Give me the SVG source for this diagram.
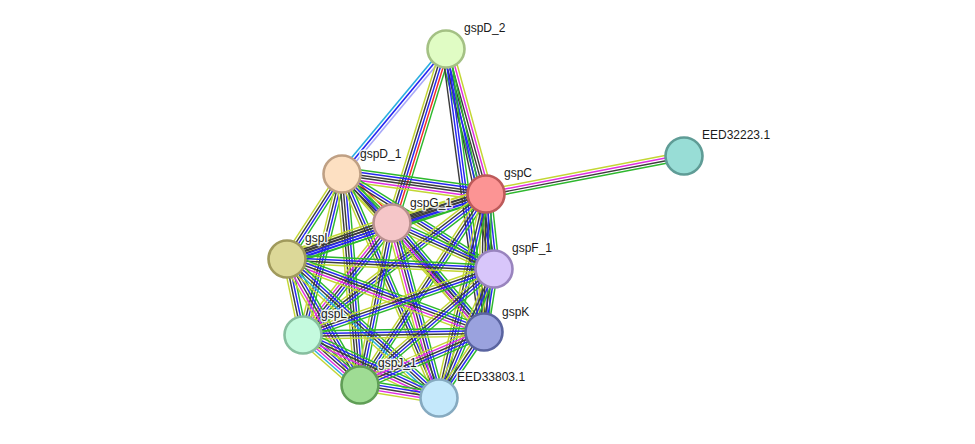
<svg xmlns="http://www.w3.org/2000/svg" width="975" height="444" viewBox="0 0 975 444">
<style>
.e path{fill:none;stroke-width:1.25}
.g{stroke:#2db82d}.b{stroke:#2626f2}.k{stroke:#3c3c3c}.y{stroke:#c3d633}.m{stroke:#e02ee0}.c{stroke:#2aaee0}.r{stroke:#f52a2a}.l{stroke:#a8a8f8}
.n circle{stroke-width:2.6}
.n text{font-family:"Liberation Sans",Arial,sans-serif;font-size:12px;fill:#1a1a1a;stroke:#fff;stroke-width:3px;stroke-opacity:0.85;paint-order:stroke;stroke-linejoin:round}
</style>
<rect width="975" height="444" fill="#fff"/>
<g id="edges" class="e">
<g transform="translate(446 49) rotate(129.8) scale(1 1.3)"><path class="l" d="M0-2.3H162.6"/><path class="b" d="M0 0H162.6"/><path class="c" d="M0 2.3H162.6"/></g>
<g transform="translate(446 49) rotate(107.2) scale(1 1.15)"><path class="g" d="M0-4.6H182.2"/><path class="r" d="M0-2.3H182.2"/><path class="b" d="M0 0H182.2"/><path class="k" d="M0 2.3H182.2"/><path class="y" d="M0 4.6H182.2"/></g>
<g transform="translate(446 49) rotate(74.6) scale(1 1.15)"><path class="y" d="M0-5.75H150.4"/><path class="m" d="M0-3.45H150.4"/><path class="k" d="M0-1.15H150.4"/><path class="k" d="M0 1.15H150.4"/><path class="b" d="M0 3.45H150.4"/><path class="g" d="M0 5.75H150.4"/></g>
<g transform="translate(446 49) rotate(77.7) scale(1 1.15)"><path class="g" d="M0-2.3H225.2"/><path class="b" d="M0 0H225.2"/><path class="k" d="M0 2.3H225.2"/></g>
<g transform="translate(446 49) rotate(82.4) scale(1 1.15)"><path class="g" d="M0-3.45H285.5"/><path class="b" d="M0-1.15H285.5"/><path class="b" d="M0 1.15H285.5"/><path class="k" d="M0 3.45H285.5"/></g>
<g transform="translate(486 194) rotate(-10.9) scale(1 1.15)"><path class="y" d="M0-3.45H201.6"/><path class="m" d="M0-1.15H201.6"/><path class="k" d="M0 1.15H201.6"/><path class="g" d="M0 3.45H201.6"/></g>
<g transform="translate(342 174) rotate(7.9) scale(1 1.15)"><path class="g" d="M0-5.75H145.4"/><path class="b" d="M0-3.45H145.4"/><path class="k" d="M0-1.15H145.4"/><path class="k" d="M0 1.15H145.4"/><path class="m" d="M0 3.45H145.4"/><path class="y" d="M0 5.75H145.4"/></g>
<g transform="translate(342 174) rotate(44.4) scale(1 1.15)"><path class="r" d="M0-4.6H70"/><path class="g" d="M0-2.3H70"/><path class="b" d="M0 0H70"/><path class="k" d="M0 2.3H70"/><path class="y" d="M0 4.6H70"/></g>
<g transform="translate(342 174) rotate(122.9) scale(1 1.15)"><path class="g" d="M0-3.45H101.2"/><path class="b" d="M0-1.15H101.2"/><path class="k" d="M0 1.15H101.2"/><path class="y" d="M0 3.45H101.2"/></g>
<g transform="translate(342 174) rotate(32) scale(1 1.15)"><path class="g" d="M0-3.45H179.2"/><path class="b" d="M0-1.15H179.2"/><path class="k" d="M0 1.15H179.2"/><path class="y" d="M0 3.45H179.2"/></g>
<g transform="translate(342 174) rotate(103.6) scale(1 1.15)"><path class="g" d="M0-3.45H165.7"/><path class="b" d="M0-1.15H165.7"/><path class="k" d="M0 1.15H165.7"/><path class="y" d="M0 3.45H165.7"/></g>
<g transform="translate(342 174) rotate(48.1) scale(1 1.15)"><path class="g" d="M0-3.45H212.4"/><path class="b" d="M0-1.15H212.4"/><path class="k" d="M0 1.15H212.4"/><path class="y" d="M0 3.45H212.4"/></g>
<g transform="translate(342 174) rotate(85.1) scale(1 1.15)"><path class="g" d="M0-4.6H211.8"/><path class="b" d="M0-2.3H211.8"/><path class="k" d="M0 0H211.8"/><path class="k" d="M0 2.3H211.8"/><path class="y" d="M0 4.6H211.8"/></g>
<g transform="translate(342 174) rotate(66.6) scale(1 1.15)"><path class="g" d="M0-3.45H244.1"/><path class="b" d="M0-1.15H244.1"/><path class="k" d="M0 1.15H244.1"/><path class="y" d="M0 3.45H244.1"/></g>
<g transform="translate(486 194) rotate(162.9) scale(1 1.15)"><path class="g" d="M0-4.6H98.4"/><path class="b" d="M0-2.3H98.4"/><path class="k" d="M0 0H98.4"/><path class="k" d="M0 2.3H98.4"/><path class="y" d="M0 4.6H98.4"/></g>
<g transform="translate(486 194) rotate(161.9) scale(1 1.15)"><path class="g" d="M0-4.6H209.3"/><path class="b" d="M0-2.3H209.3"/><path class="k" d="M0 0H209.3"/><path class="k" d="M0 2.3H209.3"/><path class="y" d="M0 4.6H209.3"/></g>
<g transform="translate(486 194) rotate(83.9) scale(1 1.15)"><path class="g" d="M0-4.6H75.4"/><path class="b" d="M0-2.3H75.4"/><path class="k" d="M0 0H75.4"/><path class="k" d="M0 2.3H75.4"/><path class="y" d="M0 4.6H75.4"/></g>
<g transform="translate(486 194) rotate(142.4) scale(1 1.15)"><path class="g" d="M0-3.45H231"/><path class="b" d="M0-1.15H231"/><path class="k" d="M0 1.15H231"/><path class="y" d="M0 3.45H231"/></g>
<g transform="translate(486 194) rotate(90.8) scale(1 1.15)"><path class="g" d="M0-4.6H138"/><path class="b" d="M0-2.3H138"/><path class="k" d="M0 0H138"/><path class="k" d="M0 2.3H138"/><path class="y" d="M0 4.6H138"/></g>
<g transform="translate(486 194) rotate(123.4) scale(1 1.15)"><path class="g" d="M0-3.45H228.8"/><path class="b" d="M0-1.15H228.8"/><path class="k" d="M0 1.15H228.8"/><path class="y" d="M0 3.45H228.8"/></g>
<g transform="translate(486 194) rotate(103) scale(1 1.15)"><path class="g" d="M0-3.45H209.3"/><path class="b" d="M0-1.15H209.3"/><path class="k" d="M0 1.15H209.3"/><path class="y" d="M0 3.45H209.3"/></g>
<g transform="translate(392 223) rotate(161.1) scale(1 1.15)"><path class="g" d="M0-5.75H111"/><path class="b" d="M0-3.45H111"/><path class="b" d="M0-1.15H111"/><path class="k" d="M0 1.15H111"/><path class="k" d="M0 3.45H111"/><path class="y" d="M0 5.75H111"/></g>
<g transform="translate(392 223) rotate(24.3) scale(1 1.15)"><path class="g" d="M0-3.45H111.9"/><path class="b" d="M0-1.15H111.9"/><path class="k" d="M0 1.15H111.9"/><path class="y" d="M0 3.45H111.9"/></g>
<g transform="translate(392 223) rotate(128.5) scale(1 1.15)"><path class="g" d="M0-4.6H143.1"/><path class="b" d="M0-2.3H143.1"/><path class="k" d="M0 0H143.1"/><path class="m" d="M0 2.3H143.1"/><path class="y" d="M0 4.6H143.1"/></g>
<g transform="translate(392 223) rotate(49.8) scale(1 1.15)"><path class="g" d="M0-4.6H142.6"/><path class="b" d="M0-2.3H142.6"/><path class="k" d="M0 0H142.6"/><path class="m" d="M0 2.3H142.6"/><path class="y" d="M0 4.6H142.6"/></g>
<g transform="translate(392 223) rotate(101.2) scale(1 1.15)"><path class="g" d="M0-3.45H165.1"/><path class="b" d="M0-1.15H165.1"/><path class="k" d="M0 1.15H165.1"/><path class="y" d="M0 3.45H165.1"/></g>
<g transform="translate(392 223) rotate(75) scale(1 1.15)"><path class="g" d="M0-4.6H181.2"/><path class="b" d="M0-2.3H181.2"/><path class="k" d="M0 0H181.2"/><path class="m" d="M0 2.3H181.2"/><path class="y" d="M0 4.6H181.2"/></g>
<g transform="translate(287 259) rotate(2.8) scale(1 1.15)"><path class="g" d="M0-3.45H207.2"/><path class="b" d="M0-1.15H207.2"/><path class="k" d="M0 1.15H207.2"/><path class="y" d="M0 3.45H207.2"/></g>
<g transform="translate(287 259) rotate(78.1) scale(1 1.15)"><path class="g" d="M0-3.45H77.7"/><path class="b" d="M0-1.15H77.7"/><path class="k" d="M0 1.15H77.7"/><path class="y" d="M0 3.45H77.7"/></g>
<g transform="translate(287 259) rotate(20.3) scale(1 1.15)"><path class="g" d="M0-4.6H210.1"/><path class="b" d="M0-2.3H210.1"/><path class="k" d="M0 0H210.1"/><path class="m" d="M0 2.3H210.1"/><path class="y" d="M0 4.6H210.1"/></g>
<g transform="translate(287 259) rotate(59.9) scale(1 1.15)"><path class="g" d="M0-4.6H145.6"/><path class="b" d="M0-2.3H145.6"/><path class="k" d="M0 0H145.6"/><path class="m" d="M0 2.3H145.6"/><path class="y" d="M0 4.6H145.6"/></g>
<g transform="translate(287 259) rotate(42.4) scale(1 1.15)"><path class="g" d="M0-4.6H206"/><path class="b" d="M0-2.3H206"/><path class="k" d="M0 0H206"/><path class="c" d="M0 2.3H206"/><path class="y" d="M0 4.6H206"/></g>
<g transform="translate(494 269) rotate(160.9) scale(1 1.15)"><path class="g" d="M0-3.45H202.1"/><path class="b" d="M0-1.15H202.1"/><path class="k" d="M0 1.15H202.1"/><path class="y" d="M0 3.45H202.1"/></g>
<g transform="translate(494 269) rotate(99) scale(1 1.15)"><path class="g" d="M0-3.45H63.8"/><path class="b" d="M0-1.15H63.8"/><path class="k" d="M0 1.15H63.8"/><path class="y" d="M0 3.45H63.8"/></g>
<g transform="translate(494 269) rotate(139.1) scale(1 1.15)"><path class="g" d="M0-3.45H177.2"/><path class="b" d="M0-1.15H177.2"/><path class="k" d="M0 1.15H177.2"/><path class="y" d="M0 3.45H177.2"/></g>
<g transform="translate(494 269) rotate(113.1) scale(1 1.15)"><path class="g" d="M0-3.45H140.2"/><path class="b" d="M0-1.15H140.2"/><path class="k" d="M0 1.15H140.2"/><path class="y" d="M0 3.45H140.2"/></g>
<g transform="translate(303 335) rotate(-0.9) scale(1 1.15)"><path class="g" d="M0-3.45H181"/><path class="b" d="M0-1.15H181"/><path class="k" d="M0 1.15H181"/><path class="y" d="M0 3.45H181"/></g>
<g transform="translate(303 335) rotate(41.3) scale(1 1.15)"><path class="g" d="M0-5.75H75.8"/><path class="b" d="M0-3.45H75.8"/><path class="k" d="M0-1.15H75.8"/><path class="m" d="M0 1.15H75.8"/><path class="c" d="M0 3.45H75.8"/><path class="y" d="M0 5.75H75.8"/></g>
<g transform="translate(303 335) rotate(24.9) scale(1 1.15)"><path class="g" d="M0-4.6H149.9"/><path class="b" d="M0-2.3H149.9"/><path class="k" d="M0 0H149.9"/><path class="m" d="M0 2.3H149.9"/><path class="y" d="M0 4.6H149.9"/></g>
<g transform="translate(484 332) rotate(156.9) scale(1 1.15)"><path class="g" d="M0-4.6H134.9"/><path class="b" d="M0-2.3H134.9"/><path class="k" d="M0 0H134.9"/><path class="m" d="M0 2.3H134.9"/><path class="y" d="M0 4.6H134.9"/></g>
<g transform="translate(484 332) rotate(124.3) scale(1 1.15)"><path class="g" d="M0-3.45H79.9"/><path class="b" d="M0-1.15H79.9"/><path class="k" d="M0 1.15H79.9"/><path class="y" d="M0 3.45H79.9"/></g>
<g transform="translate(360 385) rotate(9.3) scale(1 1.15)"><path class="g" d="M0-4.6H80.1"/><path class="b" d="M0-2.3H80.1"/><path class="k" d="M0 0H80.1"/><path class="m" d="M0 2.3H80.1"/><path class="y" d="M0 4.6H80.1"/></g>
</g>
<g id="gspD_2" class="n"><circle cx="446" cy="49" r="18.5" fill="#e0fcc4" stroke="#a4c184"/><text x="464" y="32">gspD_2</text></g>
<g id="EED32223.1" class="n"><circle cx="684" cy="156" r="18.5" fill="#98ddd6" stroke="#5f9c96"/><text x="702" y="139">EED32223.1</text></g>
<g id="gspD_1" class="n"><circle cx="342" cy="174" r="18.5" fill="#fde0c2" stroke="#bfa084"/><text x="360" y="158">gspD_1</text></g>
<g id="gspC" class="n"><circle cx="486" cy="194" r="18.5" fill="#fc9494" stroke="#bd5a5a"/><text x="504" y="177">gspC</text></g>
<g id="gspG_1" class="n"><circle cx="392" cy="223" r="18.5" fill="#f5c6c8" stroke="#b8908e"/><text x="410" y="207">gspG_1</text></g>
<g id="gspI" class="n"><circle cx="287" cy="259" r="18.5" fill="#dcd898" stroke="#a09a5c"/><text x="305" y="242">gspI</text></g>
<g id="gspF_1" class="n"><circle cx="494" cy="269" r="18.5" fill="#d8c6fa" stroke="#9984be"/><text x="512" y="252">gspF_1</text></g>
<g id="gspL" class="n"><circle cx="303" cy="335" r="18.5" fill="#c4fade" stroke="#86be9e"/><text x="321" y="318">gspL</text></g>
<g id="gspK" class="n"><circle cx="484" cy="332" r="18.5" fill="#9aa2de" stroke="#5a64a0"/><text x="502" y="316">gspK</text></g>
<g id="gspJ_1" class="n"><circle cx="360" cy="385" r="18.5" fill="#9fdc94" stroke="#609e56"/><text x="378" y="367">gspJ_1</text></g>
<g id="EED33803.1" class="n"><circle cx="439" cy="398" r="18.5" fill="#c4e8fb" stroke="#86aac0"/><text x="457" y="381">EED33803.1</text></g>
</svg>
